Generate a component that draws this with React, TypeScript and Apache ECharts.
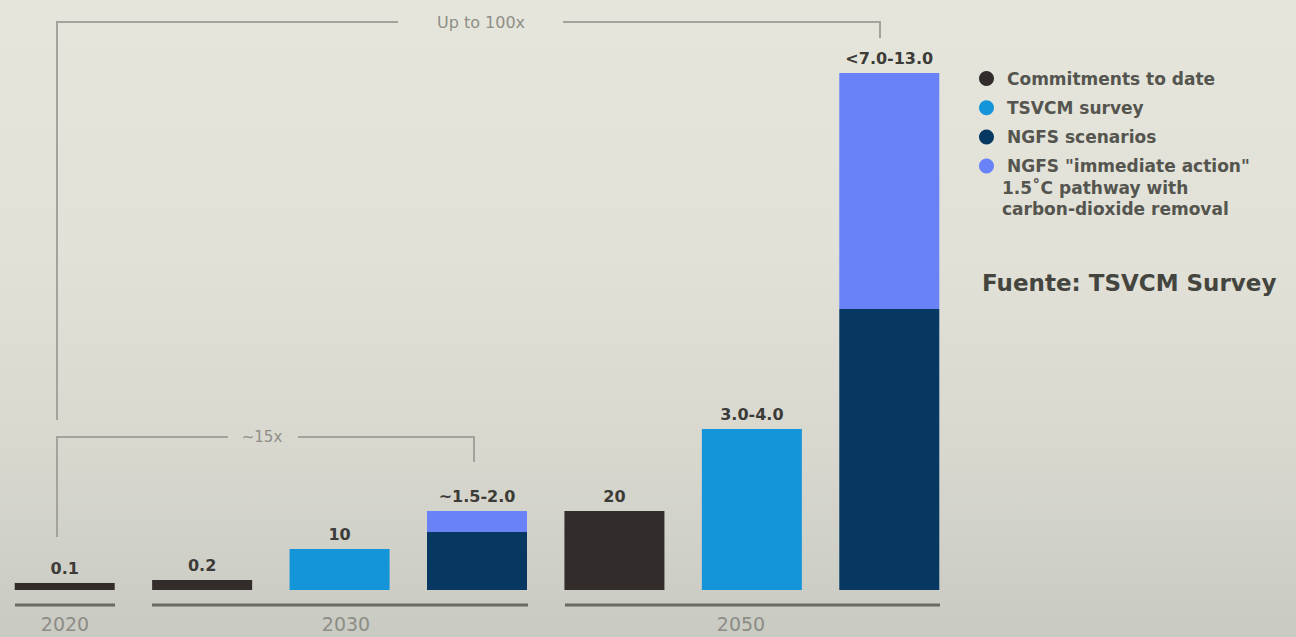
import React, { useEffect, useRef } from "react";
import * as echarts from "echarts";

const categories = [
  "2020 Commitments",
  "2030 Commitments",
  "2030 TSVCM",
  "2030 NGFS",
  "2050 Commitments",
  "2050 TSVCM",
  "2050 NGFS",
];
// bar heights (relative, as drawn in the source graphic)
const commitments = [7, 10, null, null, 79, null, null];
const tsvcm = [null, null, 41, null, null, 161, null];
const ngfs = [null, null, null, 58, null, null, 281];
const immediate = [null, null, null, 21, null, null, 236];
const barLabels = ["0.1", "0.2", "10", "~1.5-2.0", "20", "3.0-4.0", "<7.0-13.0"];
const seriesNames = [
  "Commitments to date",
  "TSVCM survey",
  "NGFS scenarios",
  'NGFS "immediate action"',
];
const legendExtraLines = ["1.5˚C pathway with", "carbon-dioxide removal"];
const yearLabels = ["2020", "2030", "2050"];
const bracketLabels = ["Up to 100x", "~15x"];
const sourceText = "Fuente: TSVCM Survey";

const colors = ["#322c2b", "#1495d9", "#073862", "#6a82f8"];
const FONT = "DejaVu Sans";
const OX = 4; // chart canvas is shifted left by OX px

export default function App() {
  const ref = useRef<HTMLDivElement>(null);
  useEffect(() => {
    if (!ref.current) return;
    const chart = echarts.init(ref.current, null, { renderer: "svg" });
    const labelCfg = (show: boolean) => ({
      show,
      position: "top",
      distance: 7,
      fontFamily: FONT,
      fontWeight: "bold",
      fontSize: 16,
      color: "#3c3b38",
      formatter: (p: any) => barLabels[p.dataIndex],
    });
    const lineStyle = { stroke: "#a3a39b", lineWidth: 2, fill: null };
    const baseStyle = { stroke: "#6a6a64", lineWidth: 3 };
    const legendText = {
      fontFamily: FONT,
      fontWeight: "bold",
      fontSize: 17,
      lineHeight: 19,
      fill: "#55554f",
      verticalAlign: "middle",
    };
    const yearStyle = (t: string) => ({
      text: t,
      fontFamily: FONT,
      fontSize: 19,
      fill: "#8d8d86",
      align: "center",
      verticalAlign: "middle",
    });
    const X = (v: number) => v + OX;
    chart.setOption({
      animation: false,
      backgroundColor: "transparent",
      grid: { left: 0, width: 962, top: 40, height: 550 },
      xAxis: { type: "category", data: categories, show: false },
      yAxis: { type: "value", min: 0, max: 550, show: false },
      legend: {
        data: seriesNames,
        orient: "vertical",
        left: X(974),
        top: 65,
        icon: "circle",
        itemWidth: 15,
        itemHeight: 15,
        itemGap: 12.2,
        selectedMode: false,
        textStyle: {
          fontFamily: FONT,
          fontWeight: "bold",
          fontSize: 17,
          color: "#55554f",
          padding: [0, 0, 0, 8],
        },
      },
      series: [
        {
          name: seriesNames[0],
          type: "bar",
          stack: "all",
          barWidth: 100,
          data: commitments,
          itemStyle: { color: colors[0] },
          label: labelCfg(true),
        },
        {
          name: seriesNames[1],
          type: "bar",
          stack: "all",
          barWidth: 100,
          data: tsvcm,
          itemStyle: { color: colors[1] },
          label: labelCfg(true),
        },
        {
          name: seriesNames[2],
          type: "bar",
          stack: "all",
          barWidth: 100,
          data: ngfs,
          itemStyle: { color: colors[2] },
          label: labelCfg(false),
        },
        {
          name: seriesNames[3],
          type: "bar",
          stack: "all",
          barWidth: 100,
          data: immediate,
          itemStyle: { color: colors[3] },
          label: labelCfg(true),
        },
      ],
      graphic: [
        // legend extra lines
        { type: "text", x: X(1002), y: 188, style: { ...legendText, text: legendExtraLines[0] } },
        { type: "text", x: X(1002), y: 209, style: { ...legendText, text: legendExtraLines[1] } },
        {
          type: "text",
          x: X(982),
          y: 283,
          style: {
            text: sourceText,
            fontFamily: FONT,
            fontWeight: "bold",
            fontSize: 23,
            fill: "#45453f",
            verticalAlign: "middle",
          },
        },
        // baselines
        { type: "line", shape: { x1: X(15), y1: 605, x2: X(115), y2: 605 }, style: baseStyle },
        { type: "line", shape: { x1: X(152), y1: 605, x2: X(528), y2: 605 }, style: baseStyle },
        { type: "line", shape: { x1: X(565), y1: 605, x2: X(940), y2: 605 }, style: baseStyle },
        // year labels
        { type: "text", x: X(65), y: 624, style: yearStyle(yearLabels[0]) },
        { type: "text", x: X(346), y: 624, style: yearStyle(yearLabels[1]) },
        { type: "text", x: X(741), y: 624, style: yearStyle(yearLabels[2]) },
        // top bracket
        { type: "polyline", shape: { points: [[X(57), 420], [X(57), 22], [X(398), 22]] }, style: lineStyle },
        { type: "polyline", shape: { points: [[X(563), 22], [X(880), 22], [X(880), 38]] }, style: lineStyle },
        {
          type: "text",
          x: X(481),
          y: 22,
          style: { text: bracketLabels[0], fontFamily: FONT, fontSize: 16, fill: "#8e8e87", align: "center", verticalAlign: "middle" },
        },
        // lower bracket
        { type: "polyline", shape: { points: [[X(57), 537], [X(57), 437], [X(228), 437]] }, style: lineStyle },
        { type: "polyline", shape: { points: [[X(298), 437], [X(474), 437], [X(474), 462]] }, style: lineStyle },
        {
          type: "text",
          x: X(262),
          y: 437,
          style: { text: bracketLabels[1], fontFamily: FONT, fontSize: 15, fill: "#8e8e87", align: "center", verticalAlign: "middle" },
        },
      ],
    });
    return () => chart.dispose();
  }, []);
  return (
    <div
      style={{
        position: "absolute",
        left: 0,
        top: 0,
        width: 1296,
        height: 637,
        overflow: "hidden",
        background: "linear-gradient(to bottom, #e5e5db 0%, #e1e1d8 40%, #d8d8cf 70%, #c9cac2 100%)",
      }}
    >
      <div ref={ref} style={{ position: "absolute", left: -OX, top: 0, width: 1296 + OX, height: 637 }} />
    </div>
  );
}
